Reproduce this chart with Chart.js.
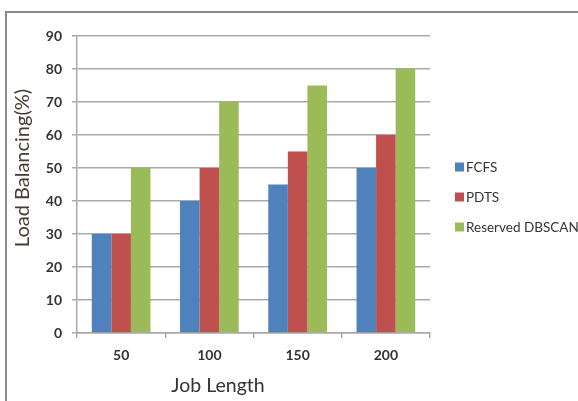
<!DOCTYPE html>
<html>
<head>
<meta charset="utf-8">
<script src="https://cdn.jsdelivr.net/npm/chart.js@4/dist/chart.umd.min.js"></script>
<style>
  html, body { margin: 0; padding: 0; width: 578px; height: 401px; overflow: hidden; background: #fff; }
  #frame { position: absolute; left: 5px; top: 11px; width: 600px; height: 420px; border: 2px solid #8a8a8a; box-sizing: border-box; }
  #c { position: absolute; left: 0; top: 0; }
</style>
</head>
<body>
<div id="frame"></div>
<canvas id="c" width="600" height="401"></canvas>
<script>
// Job lengths on the x axis
const categories = ['50', '100', '150', '200'];
// Load balancing (%) per scheduling method
const fcfs = [30, 40, 45, 50];
const pdts = [30, 50, 55, 60];
const reservedDbscan = [50, 70, 75, 80];
// y axis ticks
const yTicks = [0, 10, 20, 30, 40, 50, 60, 70, 80, 90];
const seriesNames = ['FCFS', 'PDTS', 'Reserved DBSCAN'];
const seriesColors = ['#4f81bd', '#c0504d', '#9bbb59'];

const FONT = 'Lato, "Open Sans", "DejaVu Sans", sans-serif';
const TEXT = '#333333';
const GRID = '#a9a9a9';

// axis titles and legend drawn on top of the chart
const extras = {
  id: 'extras',
  afterDraw(chart) {
    const ctx = chart.ctx;
    ctx.save();
    ctx.fillStyle = TEXT;
    ctx.font = '19.5px ' + FONT;
    ctx.textAlign = 'center';
    ctx.textBaseline = 'middle';
    ctx.fillText('Job Length', 218, 386);

    ctx.save();
    ctx.translate(23, 168);
    ctx.rotate(-Math.PI / 2);
    ctx.fillStyle = '#473b30';
    ctx.font = '20px ' + FONT;
    ctx.fillText('Load Balancing(%)', 0, 0);
    ctx.restore();

    const rows = [167, 197, 227];
    ctx.font = '13.5px ' + FONT;
    ctx.textAlign = 'left';
    chart.data.datasets.forEach((ds, i) => {
      ctx.fillStyle = ds.backgroundColor;
      ctx.fillRect(455, rows[i] - 4.5, 9, 9);
      ctx.fillStyle = TEXT;
      ctx.fillText(ds.label, 466, rows[i] + 1);
    });
    ctx.restore();
  }
};

new Chart(document.getElementById('c'), {
  type: 'bar',
  data: {
    labels: categories,
    datasets: [
      { label: seriesNames[0], data: fcfs, backgroundColor: seriesColors[0] },
      { label: seriesNames[1], data: pdts, backgroundColor: seriesColors[1] },
      { label: seriesNames[2], data: reservedDbscan, backgroundColor: seriesColors[2] }
    ]
  },
  options: {
    responsive: false,
    animation: false,
    devicePixelRatio: 1,
    layout: { padding: { top: 36, right: 170, left: 0, bottom: 0 } },
    datasets: { bar: { categoryPercentage: 0.665, barPercentage: 1.0 } },
    plugins: { legend: { display: false }, tooltip: { enabled: false } },
    scales: {
      x: {
        offset: true,
        grid: { offset: true, drawOnChartArea: false, drawTicks: true, tickLength: 5, color: GRID, lineWidth: 1.5 },
        border: { color: GRID, width: 1.5 },
        ticks: { color: TEXT, font: { family: FONT, size: 14, weight: 'bold' }, padding: 9 },
        afterFit(scale) { scale.height = 68; }
      },
      y: {
        min: 0,
        max: 90,
        afterBuildTicks(scale) { scale.ticks = yTicks.map(v => ({ value: v })); },
        grid: { color: GRID, lineWidth: 1.5, tickLength: 5 },
        border: { color: GRID, width: 1.5 },
        ticks: { color: TEXT, font: { family: FONT, size: 14, weight: 'bold' }, padding: 10 },
        afterFit(scale) { scale.width = 77; }
      }
    }
  },
  plugins: [extras]
});
</script>
</body>
</html>
